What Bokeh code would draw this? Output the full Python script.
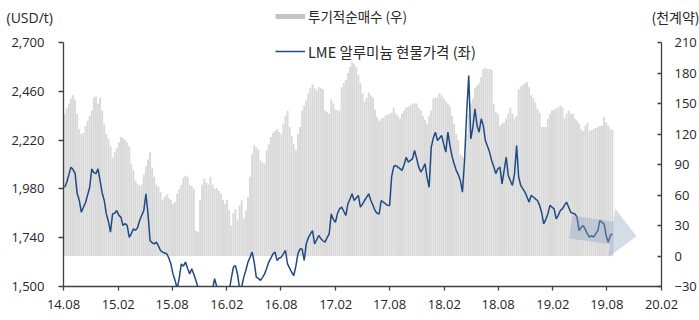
import pandas as pd
from bokeh.plotting import figure
from bokeh.models import (Range1d, LinearAxis, FixedTicker, NumeralTickFormatter,
                          DatetimeTickFormatter, Legend, LegendItem, Label, ColumnDataSource)
from bokeh.embed import file_html
from bokeh.resources import INLINE

# Weekly series (COT report dates), starting first week of Aug 2014
week_start = "2014-08-05"

# Speculative net long position, thousand contracts (right axis)
net_long = [
    140, 145, 150, 155, 158, 154, 140, 125, 120, 121,
    128, 133, 138, 143, 156, 157, 150, 156, 143, 130,
    120, 115, 108, 97, 102, 106, 112, 117, 116, 114,
    112, 108, 90, 84, 74, 71, 69, 70, 80, 88,
    95, 102, 87, 78, 70, 68, 63, 55, 58, 61,
    57, 55, 51, 53, 61, 66, 70, 77, 79, 78,
    70, 69, 66, 25, 24, 55, 70, 76, 72, 70,
    78, 70, 66, 67, 64, 61, 55, 51, 55, 45,
    30, 42, 46, 35, 50, 55, 37, 45, 58, 78,
    100, 109, 107, 105, 94, 92, 91, 104, 110, 117,
    121, 123, 125, 122, 120, 130, 138, 143, 127, 118,
    110, 104, 120, 127, 143, 148, 153, 160, 165, 169,
    165, 163, 166, 165, 164, 143, 142, 140, 154, 150,
    144, 143, 143, 166, 170, 173, 180, 186, 191, 189,
    186, 178, 170, 160, 152, 156, 161, 158, 156, 144,
    137, 133, 135, 136, 138, 139, 140, 141, 146, 140,
    138, 135, 140, 143, 146, 147, 148, 150, 150, 150,
    146, 143, 138, 134, 130, 138, 143, 155, 156, 156,
    160, 158, 155, 152, 150, 147, 138, 130, 120, 114,
    100, 98, 97, 120, 140, 150, 155, 165, 168, 170,
    176, 184, 185, 184, 184, 183, 150, 142, 140, 128,
    130, 131, 135, 140, 146, 140, 135, 138, 164, 167,
    168, 170, 171, 166, 158, 155, 151, 145, 141, 127,
    127, 127, 135, 140, 143, 144, 145, 146, 148, 146,
    136, 140, 143, 140, 140, 135, 133, 130, 125, 123,
    128, 131, 123, 124, 125, 126, 127, 128, 128, 137,
    131, 128, 125, 124,
]

# LME aluminium cash price, USD/t (left axis)
alu_price = [
    1988, 2013, 2050, 2087, 2075, 2056, 1957, 1923, 1865, 1890,
    1913, 1950, 1988, 2079, 2060, 2055, 2079, 2021, 1960, 1923,
    1857, 1820, 1767, 1857, 1860, 1874, 1850, 1841, 1800, 1810,
    1800, 1742, 1760, 1784, 1776, 1790, 1825, 1850, 1874, 1956,
    1857, 1726, 1715, 1710, 1718, 1700, 1677, 1669, 1665, 1661,
    1640, 1611, 1562, 1530, 1490, 1540, 1611, 1600, 1620, 1590,
    1562, 1587, 1560, 1530, 1495, 1480, 1470, 1460, 1465, 1475,
    1470, 1490, 1538, 1500, 1470, 1480, 1460, 1470, 1490, 1480,
    1540, 1595, 1603, 1560, 1490, 1500, 1546, 1580, 1620, 1644,
    1669, 1620, 1546, 1540, 1530, 1545, 1562, 1590, 1620, 1640,
    1660, 1669, 1628, 1640, 1644, 1660, 1677, 1611, 1590, 1570,
    1554, 1600, 1661, 1685, 1685, 1628, 1710, 1740, 1759, 1775,
    1710, 1730, 1751, 1735, 1725, 1718, 1740, 1759, 1857, 1830,
    1816, 1860, 1882, 1890, 1870, 1849, 1907, 1930, 1956, 1923,
    1935, 1948, 1890, 1905, 1923, 1940, 1956, 1923, 1900, 1874,
    1860, 1857, 1923, 1915, 1907, 1899, 1898, 2040, 2090, 2095,
    2087, 2080, 2071, 2100, 2136, 2112, 2120, 2128, 2169, 2130,
    2087, 2063, 2080, 2104, 2037, 1988, 2185, 2230, 2259, 2218,
    2230, 2243, 2200, 2161, 2259, 2194, 2140, 2104, 2071, 2050,
    2021, 1964, 2120, 2350, 2538, 2226, 2283, 2374, 2292, 2259,
    2325, 2292, 2218, 2190, 2161, 2120, 2090, 2055, 2079, 2087,
    2005, 2070, 2136, 2046, 2020, 1997, 2055, 2193, 2038, 1997,
    1980, 1964, 1940, 1915, 1948, 1940, 1931, 1923, 1900, 1865,
    1808, 1830, 1857, 1899, 1890, 1882, 1833, 1850, 1874, 1882,
    1900, 1915, 1890, 1865, 1860, 1857, 1841, 1775, 1790, 1800,
    1780, 1759, 1743, 1750, 1743, 1760, 1775, 1825, 1815, 1808,
    1751, 1718, 1751, 1759,
]

x_tick_labels = ["14.08", "15.02", "15.08", "16.02", "16.08", "17.02",
                 "17.08", "18.02", "18.08", "19.02", "19.08", "20.02"]
price_ticks = [1500, 1740, 1980, 2220, 2460, 2700]
position_ticks = [-30, 0, 30, 60, 90, 120, 150, 180, 210]

BAR_COLOR = "#d9d9d9"
SWATCH_COLOR = "#c3c3c3"
LINE_COLOR = "#1f4a85"
AXIS_COLOR = "#404040"
TEXT_COLOR = "#262626"
NUM_FONT = "Open Sans"
KR_FONT = "Noto Sans CJK KR"

dates = pd.date_range(week_start, periods=len(net_long), freq="7D")
src = ColumnDataSource(dict(date=dates, net_long=net_long, price=alu_price))

tick_dates = [pd.Timestamp(2000 + int(t[:2]), int(t[3:]), 1) for t in x_tick_labels]
tick_ms = [d.value // 10**6 for d in tick_dates]
x0_ms, x1_ms = tick_ms[0], tick_ms[-1]

# canvas and the box spanned by the axes (pixels from the left / top)
W, H = 699, 320
AX_L, AX_R, AX_T, AX_B = 63, 661, 42, 286

ms_per_px = (x1_ms - x0_ms) / (AX_R - AX_L)
p_lo, p_hi = price_ticks[0], price_ticks[-1]
val_per_px = (p_hi - p_lo) / (AX_B - AX_T)
q_lo, q_hi = position_ticks[0], position_ticks[-1]
pos_per_px = (q_hi - q_lo) / (AX_B - AX_T)

# the plot frame covers the whole canvas; axes sit at fixed locations inside it
x_range = Range1d(x0_ms - AX_L * ms_per_px, x1_ms + (W - AX_R) * ms_per_px)
y_range = Range1d(p_lo - (H - AX_B) * val_per_px, p_hi + AX_T * val_per_px)

p = figure(width=W, height=H, x_axis_type="datetime", x_range=x_range, y_range=y_range,
           output_backend="svg", toolbar_location=None,
           min_border_left=0, min_border_right=0, min_border_top=0, min_border_bottom=0)
p.extra_y_ranges = {"pos": Range1d(q_lo - (H - AX_B) * pos_per_px, q_hi + AX_T * pos_per_px)}
p.outline_line_color = None
p.xgrid.visible = False
p.ygrid.visible = False
p.background_fill_color = "white"
p.border_fill_color = "white"

# bars: weekly net long
bars = p.vbar(x="date", top="net_long", bottom=0, width=pd.Timedelta(days=6.5).value // 10**6,
              source=src, y_range_name="pos", fill_color=BAR_COLOR, line_color=None)

# price line
line = p.line(x="date", y="price", source=src, line_color=LINE_COLOR, line_width=1.5)

# keep the price line inside the axis box (below the 1,500 floor is hidden)
p.quad(left=[x_range.start], right=[x_range.end], bottom=[y_range.start], top=[p_lo],
       fill_color="white", line_color=None)

# trend arrow over the last months
arrow_from = (pd.Timestamp("2019-04-02"), 1792)
arrow_to = (pd.Timestamp("2019-11-09"), 1747)
ax_ = (arrow_from[0].value // 10**6 - x0_ms) / ms_per_px
ay_ = (arrow_from[1] - p_lo) / val_per_px
bx_ = (arrow_to[0].value // 10**6 - x0_ms) / ms_per_px
by_ = (arrow_to[1] - p_lo) / val_per_px
dx, dy = bx_ - ax_, by_ - ay_
L = (dx * dx + dy * dy) ** 0.5
ux, uy = dx / L, dy / L
nx, ny = -uy, ux
body, head, head_len = 11.5, 24.5, 25
hx, hy = bx_ - ux * head_len, by_ - uy * head_len
pts = [(ax_ + nx * body, ay_ + ny * body), (hx + nx * body, hy + ny * body),
       (hx + nx * head, hy + ny * head), (bx_, by_),
       (hx - nx * head, hy - ny * head), (hx - nx * body, hy - ny * body),
       (ax_ - nx * body, ay_ - ny * body)]
arrow_xs = [x0_ms + px * ms_per_px for px, _ in pts]
arrow_ys = [p_lo + py * val_per_px for _, py in pts]
p.patch(arrow_xs, arrow_ys, fill_color="#8ea3bf", fill_alpha=0.38, line_color=None)

# axes
xa = p.xaxis[0]
xa.ticker = FixedTicker(ticks=tick_ms)
xa.formatter = DatetimeTickFormatter(days="%y.%m", months="%y.%m", years="%y.%m")
xa.fixed_location = p_lo
xa.bounds = (x0_ms, x1_ms)
ya = p.yaxis[0]
ya.ticker = FixedTicker(ticks=price_ticks)
ya.formatter = NumeralTickFormatter(format="0,0")
ya.fixed_location = x0_ms
ya.bounds = (p_lo, p_hi)
ra = LinearAxis(y_range_name="pos", ticker=FixedTicker(ticks=position_ticks),
                fixed_location=x1_ms, bounds=(q_lo, q_hi))
p.add_layout(ra, "right")

for a in (xa, ya, ra):
    a.axis_line_color = AXIS_COLOR
    a.axis_line_width = 1.3
    a.major_tick_line_color = AXIS_COLOR
    a.major_tick_line_width = 1.3
    a.minor_tick_line_color = None
    a.major_label_text_font = NUM_FONT
    a.major_label_text_font_size = "13px"
    a.major_label_text_color = TEXT_COLOR
xa.major_tick_in, xa.major_tick_out = 0, 4
xa.major_label_standoff = 9
ya.major_tick_in, ya.major_tick_out = 0, 5
ya.major_label_standoff = 14
ra.major_tick_in, ra.major_tick_out = 4, 0
ra.major_label_standoff = 13

# legend swatch for the bars: a thick gray stroke (single point, draws nothing in the plot)
swatch = p.line(x=[x0_ms], y=[p_lo], line_color=SWATCH_COLOR, line_width=5)

def make_legend(item, left, center_from_top, size):
    lg = Legend(items=[item], location=(left, H - center_from_top - 10),
                orientation="vertical", glyph_width=30, glyph_height=20,
                label_standoff=3, label_height=20, padding=0, margin=0, spacing=0,
                border_line_color=None, background_fill_alpha=0,
                label_text_font=KR_FONT, label_text_font_size=size,
                label_text_color=TEXT_COLOR)
    p.add_layout(lg, "center")

make_legend(LegendItem(label="투기적순매수 (우)", renderers=[swatch]), 275, 15.5, "13.5px")
make_legend(LegendItem(label="LME 알루미늄 현물가격 (좌)", renderers=[line]), 275, 51.5, "14.5px")

# unit captions
p.add_layout(Label(x=6, y=H - 17, x_units="screen", y_units="screen", text="(USD/t)",
                   text_font=NUM_FONT, text_font_size="14px", text_color=TEXT_COLOR,
                   text_baseline="middle"))
p.add_layout(Label(x=651, y=H - 16, x_units="screen", y_units="screen", text="(천계약)",
                   text_font=KR_FONT, text_font_size="14px", text_color=TEXT_COLOR,
                   text_baseline="middle"))

open("out.html", "w").write(file_html(p, INLINE))
